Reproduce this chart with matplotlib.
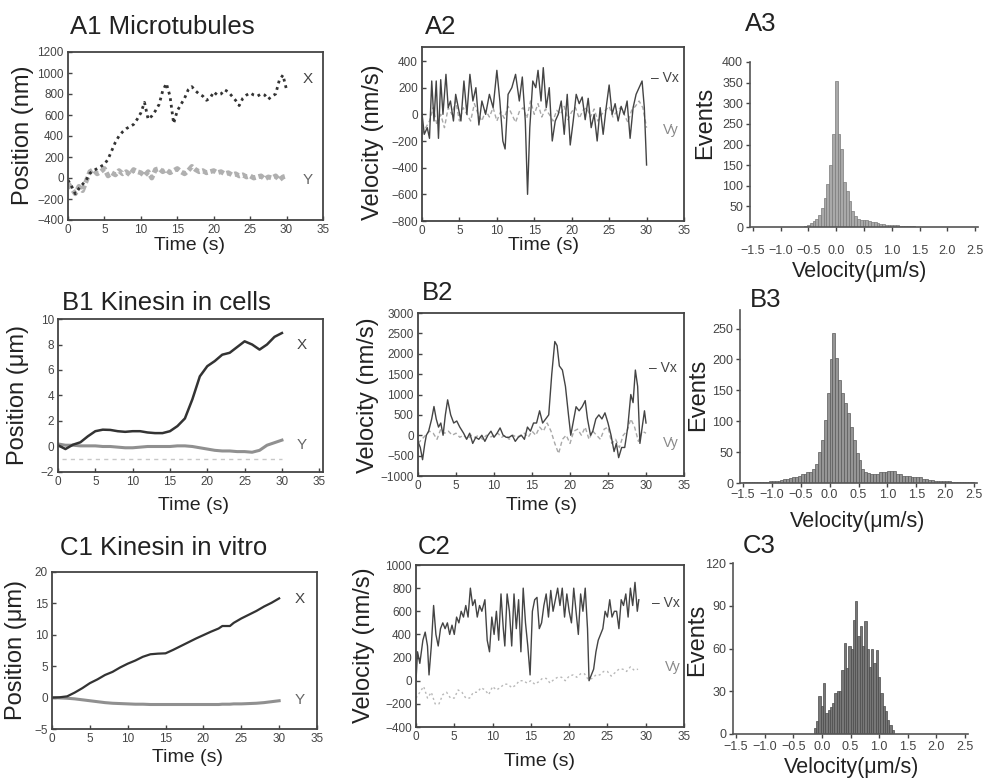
import matplotlib
matplotlib.use("Agg")
from matplotlib import pyplot as plt
import numpy as np

plt.rcParams['font.family'] = ['Liberation Sans', 'DejaVu Sans']

W, H = 990, 780

# ---------------- data ----------------
# A1 microtubules, position (nm), 0.5 s steps
a1_t = np.arange(0, 30.01, 0.5)
a1_x = [-20, -80, -150, -100, -60, -20, 45, 70, 90, 110, 130, 180, 260, 340, 400, 440,
        470, 490, 510, 560, 620, 720, 560, 590, 640, 700, 830, 900, 780, 520, 640, 700,
        760, 840, 870, 830, 800, 780, 740, 760, 820, 790, 800, 840, 820, 780, 740, 690,
        760, 790, 810, 790, 780, 800, 790, 750, 780, 800, 930, 980, 840]
a1_y = [-50, -100, -150, -80, -120, -30, 60, 80, 40, 60, 90, 20, 50, 30, 70, 40, 60, 30,
        80, 60, 50, 20, 60, 0, 80, 90, 60, 80, 50, 70, 90, 60, 40, 70, 110, 80, 60, 70, 50,
        60, 70, 50, 60, 40, 50, 30, 40, 20, 30, 10, 20, 0, 10, 20, -10, 10, 0, 20, -20, 10, 20]

# A2 velocity (nm/s)
a2_t = [0, 0.3, 0.7, 1.0, 1.3, 1.6, 1.9, 2.2, 2.5, 2.8, 3.2, 3.5, 3.8, 4.2, 4.5, 5.2, 5.6,
        6.0, 6.4, 6.8, 7.2, 7.6, 8.0, 8.5, 9.0, 9.5, 10.0, 10.4, 10.8, 11.1, 11.5, 12.0,
        12.5, 13.0, 13.4, 13.8, 14.1, 14.4, 14.8, 15.2, 15.5, 15.9, 16.2, 16.6, 17.0, 17.4,
        17.8, 18.2, 18.6, 19.0, 19.4, 19.8, 20.2, 20.6, 21.0, 21.4, 21.8, 22.2, 22.6, 23.0,
        23.4, 23.8, 24.2, 24.6, 25.0, 25.4, 25.8, 26.2, 26.6, 27.0, 27.4, 27.8, 28.2, 28.6,
        29.0, 29.4, 29.7, 30.0]
a2_vx = [8, -150, -100, -180, 250, -50, 250, -180, 260, 0, 300, 50, 100, -50, 150, -50, 250,
         0, 300, 100, 200, -80, 100, 0, 150, 50, 330, 100, -200, -260, 150, 200, 300, 100,
         280, -50, -600, -100, 250, 200, 330, 100, 350, 50, 200, -200, -50, 0, 100, -150,
         150, -230, -50, 150, 80, 130, -40, 120, -100, 0, -200, 50, -150, 50, 220, 0, 80,
         -50, 60, 0, 100, -180, 50, 150, 200, 250, 50, -380]
a2_vy_t = np.arange(0, 30.01, 0.5)
a2_vy = [-150, -100, -50, 50, -80, 0, -100, 50, 0, 100, -50, 50, 0, -50, 80, 0, -50, 30,
         -20, 50, -50, 20, -30, 60, 0, -60, 20, 50, -30, 100, 0, 80, -20, 40, 0, -50, 30, 0,
         60, -40, 20, 50, -30, 30, 50, -20, 40, -50, 0, 30, 60, -20, 20, 50, 0, -60, 30, 60,
         100, 50, -100]

# A3 histogram, bins of 0.05 starting at -0.575
a3_left = -0.575
a3_counts = [2, 6, 10, 15, 20, 30, 45, 70, 105, 150, 225, 355, 225, 190, 110, 88, 62, 40,
             26, 20, 18, 16, 16, 14, 12, 12, 10, 8, 8, 6, 6, 5, 4, 4, 3, 3, 3, 2, 2, 2, 1, 1,
             1, 1, 1, 1, 1, 1, 0, 1, 0, 0, 1]

# B1 kinesin in cells, position (um), 1 s steps
b1_t = np.arange(0, 30.01, 1.0)
b1_x = [0.1, -0.2, 0.14, 0.33, 0.8, 1.2, 1.32, 1.3, 1.2, 1.15, 1.2, 1.2, 1.1, 1.05, 1.05,
        1.2, 1.6, 2.2, 3.7, 5.5, 6.3, 6.7, 7.2, 7.35, 7.8, 8.25, 8.0, 7.6, 8.0, 8.6, 8.9]
b1_y = [0.2, 0.1, 0.1, 0.05, 0.05, 0.05, 0.0, 0.0, -0.05, -0.1, -0.1, -0.05, 0.0, 0.0,
        0.0, 0.0, 0.05, 0.05, 0.0, -0.1, -0.2, -0.3, -0.35, -0.35, -0.4, -0.4, -0.45,
        -0.3, 0.1, 0.3, 0.5]
b1_base = -1.0

# B2 velocity (nm/s)
b2_t = [0, 0.3, 0.6, 0.9, 1.1, 1.4, 1.8, 2.1, 2.4, 2.7, 3.0, 3.3, 3.6, 3.9, 4.3, 4.7, 5.1,
        5.5, 6.0, 6.4, 6.8, 7.2, 7.6, 8.0, 8.4, 8.8, 9.2, 9.6, 10.0, 10.4, 10.8, 11.2, 11.6,
        12.0, 12.4, 12.8, 13.2, 13.6, 14.0, 14.4, 14.8, 15.2, 15.6, 16.0, 16.4, 16.8, 17.2,
        17.6, 18.0, 18.3, 18.6, 19.0, 19.4, 19.8, 20.1, 20.4, 20.8, 21.2, 21.6, 22.0, 22.3,
        22.7, 23.0, 23.4, 23.8, 24.2, 24.6, 25.0, 25.4, 25.8, 26.1, 26.4, 26.8, 27.2, 27.6,
        28.0, 28.3, 28.6, 28.9, 29.2, 29.5, 29.8, 30.0]
b2_vx = [-155, -300, -600, -200, 0, 100, 400, 705, 400, 200, 300, 0, 500, 869, 500, 300,
         350, 200, 50, -100, 50, -200, -50, -100, 0, -150, 0, 100, -50, 50, 180, 0, -50,
         -50, 0, -150, -50, 0, -100, 200, 100, 300, 300, 600, 300, 400, 500, 1500, 2300,
         2200, 1700, 1600, 1200, 500, 0, 300, 700, 600, 700, 850, 400, 0, 100, 400, 500,
         400, 550, 300, 0, -400, -200, -550, -300, -300, 200, 1000, 800, 1600, 1200, -200,
         200, 600, 300]
b2_vy_t = np.arange(0, 30.01, 0.5)
b2_vy = [-200, -100, 0, 100, 50, -100, 150, 50, 100, 0, 50, -50, 0, -100, 0, -50, 0, -100,
         0, -50, 0, 50, -50, 0, -100, 0, -50, 0, 50, -50, 100, 0, 200, 100, 300, 100, -200,
         -450, -100, 0, -200, 100, 150, 0, 200, -100, 100, 0, -100, 150, 200, -200, -100,
         -300, 0, 100, 400, 200, -150, 100, 50]

# B3 histogram, bins of 0.05 from -1.5
b3_left = -1.5
b3_counts = [1, 1, 1, 1, 2, 1, 2, 2, 2, 3,
             3, 4, 4, 5, 6, 7, 8, 9, 10, 12,
             15, 15, 17, 18, 22, 31, 50, 70, 102, 146,
             200, 242, 203, 167, 146, 130, 113, 91, 70, 48,
             37, 23, 18, 16, 15, 14, 15, 17, 18, 17,
             20, 19, 20, 15, 14, 12, 11, 12, 10, 10,
             10, 9, 7, 7, 5, 5, 4, 4, 3, 3,
             3, 3, 2, 2, 2, 2, 1, 1, 1, 1]

# C1 kinesin in vitro, position (um)
c1_t = [0, 1, 2, 3, 4, 5, 6, 7, 8, 9, 10, 11, 12, 13, 14, 15, 16, 17, 18, 19, 20, 21, 22,
        22.5, 23.5, 24, 25, 26, 27, 28, 29, 30]
c1_x = [0, 0.05, 0.2, 0.8, 1.5, 2.3, 2.9, 3.6, 4.1, 4.8, 5.4, 5.9, 6.5, 6.9, 7.0, 7.05, 7.6,
        8.2, 8.8, 9.4, 9.95, 10.5, 11.0, 11.4, 11.4, 11.9, 12.6, 13.2, 13.8, 14.5, 15.1, 15.8]
c1_y = [0, -0.05, -0.1, -0.2, -0.35, -0.5, -0.65, -0.8, -0.9, -0.95, -1.0, -1.05, -1.05,
        -1.1, -1.1, -1.1, -1.1, -1.1, -1.1, -1.1, -1.1, -1.1, -1.1, -1.05, -1.05, -1.0,
        -1.0, -0.95, -0.9, -0.8, -0.65, -0.5]

# C2 velocity (nm/s)
c2_t = [0, 0.2, 0.5, 0.9, 1.2, 1.5, 1.7, 2.0, 2.3, 2.6, 2.9, 3.2, 3.5, 3.8, 4.1, 4.4, 4.7,
        5.0, 5.3, 5.6, 5.9, 6.2, 6.5, 6.8, 7.1, 7.4, 7.7, 8.0, 8.3, 8.6, 9.0, 9.3, 9.6, 9.9,
        10.2, 10.5, 10.8, 11.1, 11.4, 11.6, 11.9, 12.2, 12.5, 12.8, 13.1, 13.4, 13.7, 14.0,
        14.3, 14.6, 14.9, 15.2, 15.5, 15.8, 16.1, 16.4, 16.7, 17.0, 17.3, 17.6, 17.9, 18.2,
        18.5, 18.8, 19.1, 19.4, 19.7, 20.0, 20.3, 20.6, 20.9, 21.2, 21.5, 21.8, 22.1, 22.4,
        22.6, 22.9, 23.2, 23.5, 23.8, 24.1, 24.4, 24.7, 25.0, 25.3, 25.6, 25.9, 26.2, 26.5,
        26.8, 27.1, 27.4, 27.7, 28.0, 28.3, 28.6, 28.9, 29.1]
c2_vx = [0, 250, 150, 350, 420, 300, 50, 300, 650, 400, 300, 450, 500, 450, 500, 400, 480,
         400, 550, 500, 600, 550, 650, 550, 800, 650, 700, 550, 650, 600, 700, 350, 250,
         550, 400, 600, 350, 750, 450, 300, 750, 600, 300, 750, 450, 700, 250, 800, 500,
         300, 50, 600, 700, 720, 450, 500, 650, 750, 550, 780, 600, 700, 800, 650, 800, 550,
         750, 600, 500, 800, 600, 400, 750, 600, 800, 450, 0, 50, 100, 250, 350, 400, 450,
         600, 550, 700, 550, 600, 600, 450, 700, 650, 750, 550, 800, 650, 850, 600, 700]
c2_vy_t = np.arange(0, 29.01, 0.5)
c2_vy = [-150, -100, -50, -150, -100, -200, -200, -120, -100, -150, -150, -80, -100, -150,
         -150, -100, -100, -60, -80, -120, -50, -80, -60, -30, -30, -60, -40, 0, 0, -20, 0,
         -30, -10, 20, 20, -20, 10, 30, 30, 0, 40, 50, 30, 60, 60, 10, 20, 50, 50, 80, 80,
         40, 70, 100, 100, 80, 120, 90, 100]

# C3 histogram, bins of 0.04 starting at -0.14
c3_left = -0.14
c3_counts = [4, 9, 27, 20, 36, 15, 17, 19, 22, 29, 30, 30, 45, 64, 46, 62, 60, 80, 93, 69,
             76, 62, 79, 60, 47, 60, 50, 59, 40, 29, 20, 16, 10, 6, 3]

# ---------------- figure ----------------
fig = plt.figure(figsize=(W / 100, H / 100), dpi=100)


def box(x0, y0, x1, y1):
    # pixel box (top-left origin) -> figure fraction rect
    return [x0 / W, 1 - y1 / H, (x1 - x0) / W, (y1 - y0) / H]


def ftext(x, y, s, **kw):
    fig.text(x / W, 1 - y / H, s, **kw)


dark = '#333333'
light = '#a8a8a8'
tick_fs = 8.5
title_fs = 18.5
xlab_fs = 14
ylab_fs = 17
hlab_fs = 15.5


def trace_axes(rect, xlim, ylim, yticks):
    ax = fig.add_axes(rect)
    ax.set_xlim(*xlim)
    ax.set_ylim(*ylim)
    ax.set_xticks(np.arange(0, 36, 5))
    ax.set_yticks(yticks)
    ax.tick_params(direction='in', length=3, width=1, labelsize=tick_fs,
                   colors='#444444', pad=3)
    for s in ax.spines.values():
        s.set_color('#444444')
        s.set_linewidth(1.3)
    return ax


def hist_axes(rect, ylim, yticks, xpad):
    ax = fig.add_axes(rect)
    ax.set_xlim(-1.55, 2.55)
    ax.set_ylim(*ylim)
    ax.set_xticks(np.arange(-1.5, 2.51, 0.5))
    ax.set_xticklabels(['\u22121.5', '\u22121.0', '\u22120.5', '0.0', '0.5', '1.0',
                        '1.5', '2.0', '2.5'])
    ax.set_yticks(yticks)
    ax.tick_params(direction='out', length=3, width=1, labelsize=9,
                   colors='#444444', pad=2)
    ax.tick_params(axis='x', pad=xpad)
    ax.spines['top'].set_visible(False)
    ax.spines['right'].set_visible(False)
    for s in ['left', 'bottom']:
        ax.spines[s].set_color('#555555')
        ax.spines[s].set_linewidth(1.2)
    return ax


# ---- A1
ax = trace_axes(box(68, 52, 323, 220), (0, 35), (-400, 1200), np.arange(-400, 1201, 200))
ax.plot(a1_t, a1_y, color='#b0b0b0', lw=3.5, ls=(0, (1.2, 0.6)))
ax.plot(a1_t, a1_x, color=dark, lw=2, ls=(0, (1, 1.4)))
ax.text(32.2, 941, 'X', fontsize=11, color='#444444', va='center')
ax.text(32.2, -17, 'Y', fontsize=11, color='#666666', va='center')

# ---- A2
ax = trace_axes(box(422, 47, 684, 221), (0, 35), (-800, 505), np.arange(-800, 401, 200))
ax.plot(a2_vy_t, a2_vy, color=light, lw=1, ls=(0, (3, 2)))
ax.plot(a2_t, a2_vx, color='#444444', lw=1)
ax.text(30.6, 272, '\u2013 Vx', fontsize=10, color='#444444', va='center')
ax.text(32.2, -118, 'Vy', fontsize=10, color='#888888', va='center')

# ---- A3
ax = hist_axes(box(750, 62, 978, 227), (0, 400), np.arange(0, 401, 50), 10)
c = a3_left + 0.05 * np.arange(len(a3_counts)) + 0.025
ax.bar(c, a3_counts, width=0.05, color='#a9a9a9', edgecolor='#7a7a7a', linewidth=0.5)

# ---- B1
ax = trace_axes(box(58, 319, 323, 472), (0, 35.5), (-2, 10), np.arange(-2, 11, 2))
ax.plot([0.5, 30], [b1_base, b1_base], color='#c8c8c8', lw=1, ls=(0, (3, 3)))
ax.plot(b1_t, b1_y, color='#909090', lw=2.2)
ax.plot(b1_t, b1_x, color=dark, lw=1.8)
ax.text(32.0, 7.96, 'X', fontsize=11, color='#444444', va='center')
ax.text(32.0, 0.12, 'Y', fontsize=11, color='#666666', va='center')

# ---- B2
ax = trace_axes(box(418, 313, 684, 476), (0, 35), (-1000, 3000), np.arange(-1000, 3001, 500))
ax.plot(b2_vy_t, b2_vy, color=light, lw=1, ls=(0, (3, 2)))
ax.plot(b2_t, b2_vx, color='#444444', lw=1)
ax.text(30.4, 1650, '\u2013 Vx', fontsize=10, color='#444444', va='center')
ax.text(32.2, -185, 'Vy', fontsize=10, color='#888888', va='center')

# ---- B3
ax = hist_axes(box(740, 310, 977, 483), (0, 280), np.arange(0, 251, 50), 1)
c = b3_left + 0.05 * np.arange(len(b3_counts)) + 0.025
ax.bar(c, b3_counts, width=0.05, color='#959595', edgecolor='#5a5a5a', linewidth=0.5)

# ---- C1
ax = trace_axes(box(52, 572, 317, 729), (0, 35), (-5, 20), np.arange(-5, 21, 5))
ax.plot(c1_t, c1_y, color='#909090', lw=2.2)
ax.plot(c1_t, c1_x, color=dark, lw=1.6)
ax.text(32.0, 15.7, 'X', fontsize=11, color='#444444', va='center')
ax.text(32.0, -0.4, 'Y', fontsize=11, color='#666666', va='center')

# ---- C2
ax = trace_axes(box(416, 565, 684, 727), (0, 35), (-400, 1000), np.arange(-400, 1001, 200))
ax.plot(c2_vy_t, c2_vy, color='#b8b8b8', lw=1, ls=(0, (1.5, 2)))
ax.plot(c2_t, c2_vx, color='#444444', lw=1)
ax.text(30.8, 672, '\u2013 Vx', fontsize=10, color='#444444', va='center')
ax.text(32.5, 119, 'Vy', fontsize=10, color='#888888', va='center')

# ---- C3
ax = hist_axes(box(733, 563, 968, 734), (0, 120), np.arange(0, 121, 30), 2)
c = c3_left + 0.04 * np.arange(len(c3_counts)) + 0.02
ax.bar(c, c3_counts, width=0.04, color='#777777', edgecolor='#4a4a4a', linewidth=0.5)

# ---------------- titles and labels ----------------
ftext(70, 27, 'A1 Microtubules', fontsize=title_fs, va='center', color='#222222')
ftext(425, 27, 'A2', fontsize=title_fs, va='center', color='#222222')
ftext(745, 24, 'A3', fontsize=title_fs, va='center', color='#222222')
ftext(62, 303, 'B1 Kinesin in cells', fontsize=title_fs, va='center', color='#222222')
ftext(422, 293, 'B2', fontsize=title_fs, va='center', color='#222222')
ftext(750, 300, 'B3', fontsize=title_fs, va='center', color='#222222')
ftext(60, 548, 'C1 Kinesin in vitro', fontsize=title_fs, va='center', color='#222222')
ftext(418, 547, 'C2', fontsize=title_fs, va='center', color='#222222')
ftext(743, 546, 'C3', fontsize=title_fs, va='center', color='#222222')

for x, y in [(190, 245), (193, 505), (188, 758), (543, 245), (542, 505), (539, 762)]:
    ftext(x, y, 'Time (s)', fontsize=xlab_fs, ha='center', va='center', color='#222222')
for x, y in [(860, 271), (858, 521), (852, 768)]:
    ftext(x, y, 'Velocity(\u03bcm/s)', fontsize=hlab_fs, ha='center', va='center',
          color='#222222')

for x, y, s in [(23, 135, 'Position (nm)'), (18, 395, 'Position (\u03bcm)'),
                (16, 650, 'Position (\u03bcm)'), (373, 142, 'Velocity (nm/s)'),
                (368, 395, 'Velocity (nm/s)'), (364, 645, 'Velocity (nm/s)'),
                (705, 123, 'Events'), (698, 395, 'Events'), (697, 640, 'Events')]:
    ftext(x, y, s, fontsize=ylab_fs, rotation=90, ha='center', va='center',
          color='#222222')

fig.savefig('out.png', dpi=100)
